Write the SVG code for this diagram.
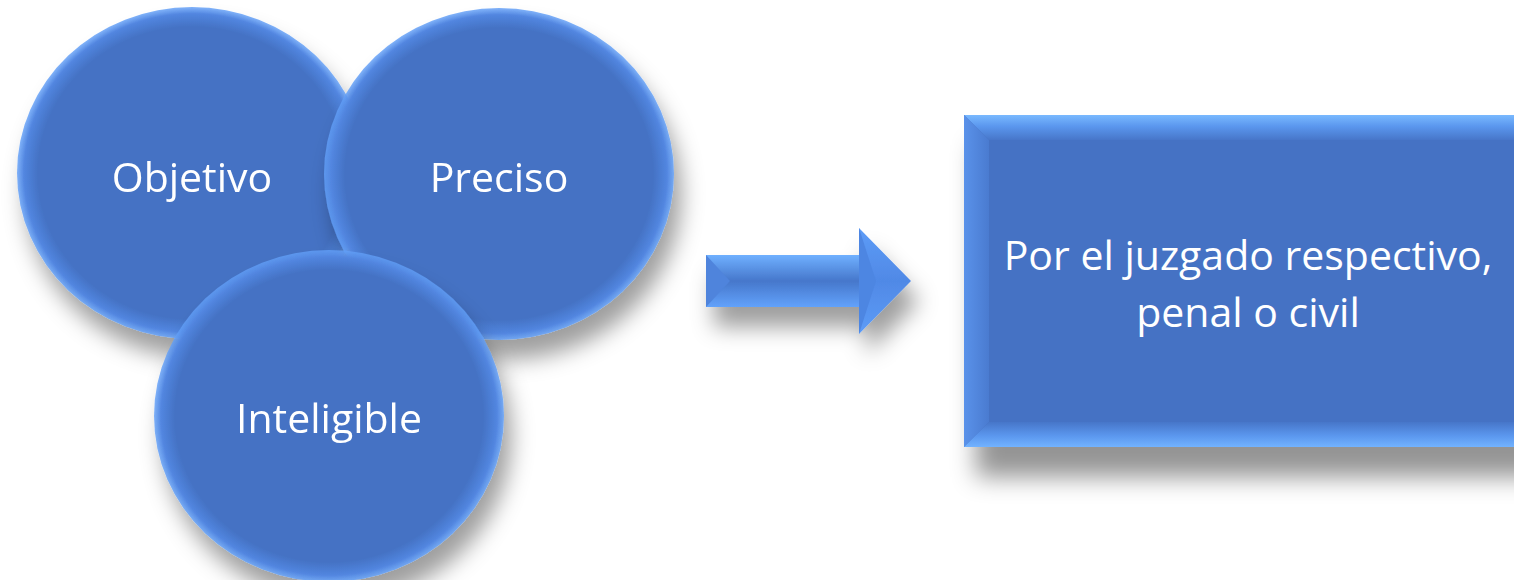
<svg xmlns="http://www.w3.org/2000/svg" width="1514" height="580" viewBox="0 0 1514 580">
  <style>
    .lbl { font-family: "Open Sans", "Noto Sans", "Liberation Sans", sans-serif; font-size: 41px; fill: #ffffff; text-anchor: middle; }
  </style>
  <defs>
    <filter id="shadow" x="-30%" y="-30%" width="160%" height="170%">
      <feDropShadow dx="8" dy="20" stdDeviation="11" flood-color="#000" flood-opacity="0.38"/>
    </filter>
    <filter id="shadowRect" x="-20%" y="-20%" width="140%" height="160%">
      <feDropShadow dx="12" dy="30" stdDeviation="12" flood-color="#000" flood-opacity="0.42"/>
    </filter>
    <radialGradient id="ball" cx="0.5" cy="0.5" r="0.5">
      <stop offset="0" stop-color="#4472C4"/>
      <stop offset="0.88" stop-color="#4472C4"/>
      <stop offset="0.96" stop-color="#5286e0"/>
      <stop offset="1" stop-color="#62a0f8" stop-opacity="0.8"/>
    </radialGradient>
    <linearGradient id="topBevel" x1="0" y1="0" x2="0" y2="1">
      <stop offset="0" stop-color="#79b9ff"/>
      <stop offset="0.45" stop-color="#5b97ee"/>
      <stop offset="1" stop-color="#4776c9"/>
    </linearGradient>
    <linearGradient id="botBevel" x1="0" y1="0" x2="0" y2="1">
      <stop offset="0" stop-color="#4776c9"/>
      <stop offset="0.55" stop-color="#5b97ee"/>
      <stop offset="1" stop-color="#72b3ff"/>
    </linearGradient>
    <linearGradient id="leftBevel" x1="0" y1="0" x2="1" y2="0">
      <stop offset="0" stop-color="#5a92ea"/>
      <stop offset="1" stop-color="#4a7bd0"/>
    </linearGradient>
    <linearGradient id="shaft" x1="0" y1="0" x2="0" y2="1">
      <stop offset="0" stop-color="#6fb0ff"/>
      <stop offset="0.5" stop-color="#4677cb"/>
      <stop offset="1" stop-color="#62a2fb"/>
    </linearGradient>
    <linearGradient id="head" x1="0" y1="0" x2="0" y2="1">
      <stop offset="0" stop-color="#5d9cf7"/>
      <stop offset="0.5" stop-color="#5089e6"/>
      <stop offset="1" stop-color="#5d9cf7"/>
    </linearGradient>
  </defs>

  <rect width="1514" height="580" fill="#ffffff"/>

  <g id="node-objetivo" filter="url(#shadow)">
    <ellipse cx="192" cy="173" rx="175" ry="166" fill="url(#ball)"/>
    <text class="lbl" x="192" y="192">Objetivo</text>
  </g>

  <g id="node-preciso" filter="url(#shadow)">
    <ellipse cx="499" cy="174" rx="175" ry="166" fill="url(#ball)"/>
    <text class="lbl" x="499" y="192">Preciso</text>
  </g>

  <g id="node-inteligible" filter="url(#shadow)">
    <ellipse cx="329" cy="416" rx="175" ry="166" fill="url(#ball)"/>
    <text class="lbl" x="329" y="433">Inteligible</text>
  </g>

  <g id="connectors">
    <g id="arrow" filter="url(#shadow)">
      <polygon points="706,255 859,255 859,228 911,281 859,334 859,307 706,307" fill="url(#head)"/>
      <rect x="706" y="255" width="153" height="52" fill="url(#shaft)"/>
      <polygon points="706,255 730,281 706,307" fill="#4f84dc"/>
      <polygon points="859,228 876,281 859,334" fill="#4e86e2"/>
    </g>
  </g>

  <g id="node-result">
    <rect x="964" y="115" width="600" height="332" fill="#4472C4" filter="url(#shadowRect)"/>
    <polygon points="964,115 1564,115 1539,140 989,140" fill="url(#topBevel)"/>
    <polygon points="964,115 989,140 989,422 964,447" fill="url(#leftBevel)"/>
    <polygon points="964,447 989,422 1539,422 1564,447" fill="url(#botBevel)"/>
    <text class="lbl" x="1248" y="270">Por el juzgado respectivo,</text>
    <text class="lbl" x="1248" y="327">penal o civil</text>
  </g>
</svg>
